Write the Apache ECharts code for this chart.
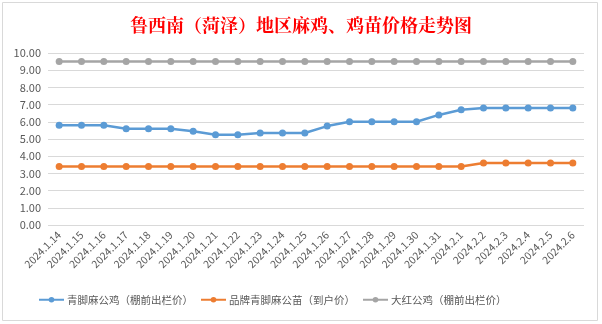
<!DOCTYPE html>
<html><head><meta charset="utf-8">
<script src="https://cdn.jsdelivr.net/npm/echarts@6/dist/echarts.min.js"></script>
<style>html,body{margin:0;padding:0;background:#fff}#c{width:602px;height:324px}</style>
</head><body><div id="c"></div>
<script>
const categories = ['2024.1.14','2024.1.15','2024.1.16','2024.1.17','2024.1.18','2024.1.19','2024.1.20','2024.1.21','2024.1.22','2024.1.23','2024.1.24','2024.1.25','2024.1.26','2024.1.27','2024.1.28','2024.1.29','2024.1.30','2024.1.31','2024.2.1','2024.2.2','2024.2.3','2024.2.4','2024.2.5','2024.2.6'];
const seriesNames = ['青脚麻公鸡（棚前出栏价）','品牌青脚麻公苗（到户价）','大红公鸡（棚前出栏价）'];
const qingjiao = [5.8,5.8,5.8,5.6,5.6,5.6,5.45,5.25,5.25,5.35,5.35,5.35,5.75,6.0,6.0,6.0,6.0,6.4,6.7,6.8,6.8,6.8,6.8,6.8];
const pinpai = [3.4,3.4,3.4,3.4,3.4,3.4,3.4,3.4,3.4,3.4,3.4,3.4,3.4,3.4,3.4,3.4,3.4,3.4,3.4,3.6,3.6,3.6,3.6,3.6];
const dahong = [9.5,9.5,9.5,9.5,9.5,9.5,9.5,9.5,9.5,9.5,9.5,9.5,9.5,9.5,9.5,9.5,9.5,9.5,9.5,9.5,9.5,9.5,9.5,9.5];
const colors = ['#5B9BD5','#ED7D31','#A5A5A5'];
const ff = '"Noto Sans CJK SC","Noto Sans",sans-serif';
const chart = echarts.init(document.getElementById('c'));
const mk = (name, data, i) => ({
  name, type:'line', data, color: colors[i],
  symbol:'circle', symbolSize:7,
  lineStyle:{width:2.5, color: colors[i]},
  itemStyle:{color: colors[i]}
});
chart.setOption({
  animation:false,
  graphic:[{type:'rect', shape:{x:2.5,y:2.5,width:595,height:318}, style:{fill:'none', stroke:'#d9d9d9', lineWidth:1}, z:-1}],
  title:{text:'鲁西南（菏泽）地区麻鸡、鸡苗价格走势图', left:'center', top:11,
    textStyle:{color:'#FF0000', fontSize:18, fontWeight:'bold', fontFamily:'"Noto Serif CJK SC","Noto Sans CJK SC",serif'}},
  grid:{left:48, right:18, top:53, bottom:99},
  xAxis:{type:'category', data:categories, boundaryGap:true,
    axisLine:{show:false}, axisTick:{show:false},
    axisLabel:{rotate:45, interval:0, fontSize:10.5, color:'#595959', fontFamily:ff, margin:8}},
  yAxis:{type:'value', min:0, max:10, interval:1,
    axisLabel:{formatter:v=>v.toFixed(2), fontSize:11, color:'#595959', fontFamily:ff, margin:7},
    splitLine:{lineStyle:{color:'#d9d9d9', width:1}}, axisLine:{show:false}, axisTick:{show:false}},
  legend:{bottom:14, left:33, itemWidth:25, itemHeight:7, itemGap:7,
    textStyle:{fontSize:10.5, color:'#595959', fontFamily:ff, padding:[0,0,0,-2]},
    data:seriesNames},
  series:[mk(seriesNames[0], qingjiao, 0), mk(seriesNames[1], pinpai, 1), mk(seriesNames[2], dahong, 2)]
});
</script></body></html>
